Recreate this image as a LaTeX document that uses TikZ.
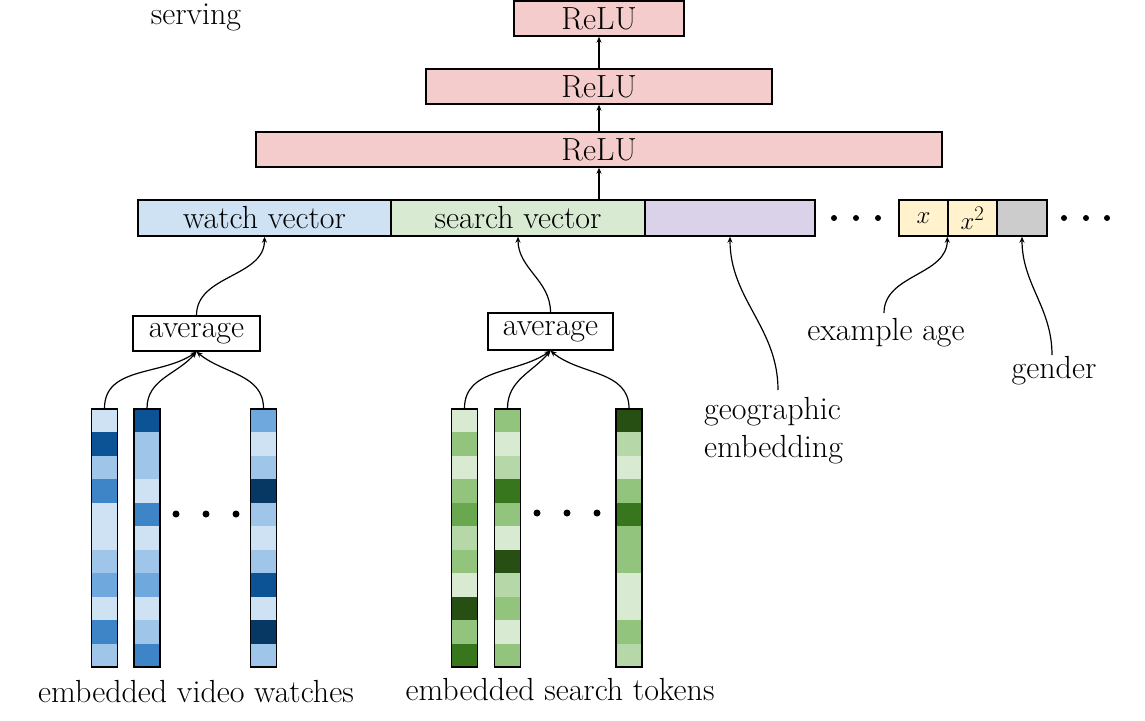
\documentclass[tikz,border=0pt]{standalone}
\usetikzlibrary{arrows.meta}
\definecolor{relu}{HTML}{F4CCCC}
\definecolor{watchc}{HTML}{CFE2F3}
\definecolor{searchc}{HTML}{D9EAD3}
\definecolor{geoc}{HTML}{D9D2E9}
\definecolor{agec}{HTML}{FFF2CC}
\definecolor{genc}{HTML}{CCCCCC}
\definecolor{Ba}{HTML}{CFE2F3}
\definecolor{Bb}{HTML}{9FC5E8}
\definecolor{Bc}{HTML}{6FA8DC}
\definecolor{Bd}{HTML}{3D85C6}
\definecolor{Be}{HTML}{0B5394}
\definecolor{Bf}{HTML}{073763}
\definecolor{Ga}{HTML}{D9EAD3}
\definecolor{Gb}{HTML}{B6D7A8}
\definecolor{Gc}{HTML}{93C47D}
\definecolor{Gd}{HTML}{6AA84F}
\definecolor{Ge}{HTML}{38761D}
\definecolor{Gf}{HTML}{274E13}
\tikzset{
  lbl/.style={font=\fontsize{32}{38}\selectfont, inner sep=0pt},
  boxn/.style={draw, line width=1.4pt, inner sep=0pt, font=\fontsize{32}{38}\selectfont},
  colbox/.style={draw, line width=1.4pt, minimum width=26pt, minimum height=258pt, inner sep=0pt},
  arr/.style={-{Stealth[length=6pt,width=5pt]}, line width=1.2pt},
  bigdot/.style={circle, fill=black, inner sep=0pt, minimum size=7pt},
  smalldot/.style={circle, fill=black, inner sep=0pt, minimum size=6pt},
}
\begin{document}
\begin{tikzpicture}[x=1pt,y=-1pt]
\useasboundingbox (0,0) rectangle (1145,720);
% ReLU layers
\node[boxn, fill=relu, minimum width=170pt, minimum height=35pt] (r3) at (599,18.5) {ReLU};
\node[boxn, fill=relu, minimum width=346pt, minimum height=35pt] (r2) at (599,86.5) {ReLU};
\node[boxn, fill=relu, minimum width=686pt, minimum height=35pt] (r1) at (599,149.5) {ReLU};
% feature bar
\node[boxn, fill=watchc, minimum width=253pt, minimum height=36pt] (watch) at (264.5,218) {watch vector};
\node[boxn, fill=searchc, minimum width=254pt, minimum height=36pt] (search) at (518,218) {search vector};
\node[boxn, fill=geoc, minimum width=170pt, minimum height=36pt] (geo) at (730,218) {};
\node[boxn, fill=agec, minimum width=49pt, minimum height=36pt] (xa) at (923.5,218) {$x$};
\node[boxn, fill=agec, minimum width=49pt, minimum height=36pt] (xb) at (972.5,218) {$x^2$};
\node[boxn, fill=genc, minimum width=50pt, minimum height=36pt] (gen) at (1022,218) {};
\foreach \i/\x in {1/834,2/856,3/878,4/1064,5/1086,6/1107}
  \node[smalldot] (bd\i) at (\x,218) {};
% arrows between layers
\draw[arr] (search.north -| r1.south) -- (r1.south);
\draw[arr] (r1.north) -- (r2.south);
\draw[arr] (r2.north) -- (r3.south);
% serving
\node[lbl] (serving) at (196,17) {serving};
% average boxes
\node[boxn, minimum width=127pt, minimum height=35pt] (avg1) at (196.5,333.5) {average};
\node[boxn, minimum width=125pt, minimum height=37pt] (avg2) at (550.5,331.5) {average};
\draw[arr] (avg1.north) to[out=90,in=-90] (watch.south);
\draw[arr] (avg2.north) to[out=90,in=-90] (search.south);
% columns
\newcommand{\cellcol}[3]{%
  \foreach \c [count=\k from 0] in {#2} {
    \fill[\c] (#1-13,409+\k*23.45) rectangle (#1+13,409+\k*23.45+23.45);
  }
  \node[colbox] (#3) at (#1,538) {};
}
\cellcol{104.5}{Ba,Be,Bb,Bd,Ba,Ba,Bb,Bc,Ba,Bd,Bb}{b1}
\cellcol{147}{Be,Bb,Bb,Ba,Bd,Ba,Bb,Bc,Ba,Bb,Bd}{b2}
\cellcol{263.5}{Bc,Ba,Bb,Bf,Bb,Ba,Bb,Be,Ba,Bf,Bb}{b3}
\cellcol{464.5}{Ga,Gc,Ga,Gc,Gd,Gb,Gc,Ga,Gf,Gc,Ge}{g1}
\cellcol{507.5}{Gc,Ga,Gb,Ge,Gc,Ga,Gf,Gb,Gc,Ga,Gc}{g2}
\cellcol{629}{Gf,Gb,Ga,Gc,Ge,Gc,Gc,Ga,Ga,Gc,Gb}{g3}
\foreach \i/\x in {1/176,2/206,3/236}
  \node[bigdot] (cb\i) at (\x,514) {};
\foreach \i/\x in {1/537,2/567,3/597}
  \node[bigdot] (cg\i) at (\x,513) {};
% column to average
\draw[arr] (b1.north) to[out=90,in=-145] (avg1.south);
\draw[arr] (b2.north) to[out=90,in=-130] (avg1.south);
\draw[arr] (b3.north) to[out=90,in=-40] (avg1.south);
\draw[arr] (g1.north) to[out=90,in=-145] (avg2.south);
\draw[arr] (g2.north) to[out=90,in=-130] (avg2.south);
\draw[arr] (g3.north) to[out=90,in=-40] (avg2.south);
% labels
\node[lbl] (lw) at (196,692) {embedded video watches};
\node[lbl] (ls) at (560,690) {embedded search tokens};
\node[lbl, align=left, anchor=north west] (lgeo) at (704,397) {geographic\\embedding};
\node[lbl] (lage) at (886,333) {example age};
\node[lbl] (lgen) at (1054,371) {gender};
\coordinate (geostart) at (778,390);
\coordinate (agestart) at (884,313);
\coordinate (genstart) at (1052,355);
\draw[arr] (geostart) to[out=90,in=-90] (geo.south);
\draw[arr] (agestart) to[out=90,in=-90] (xb.south west);
\draw[arr] (genstart) to[out=90,in=-90] (gen.south);
\end{tikzpicture}
\end{document}
